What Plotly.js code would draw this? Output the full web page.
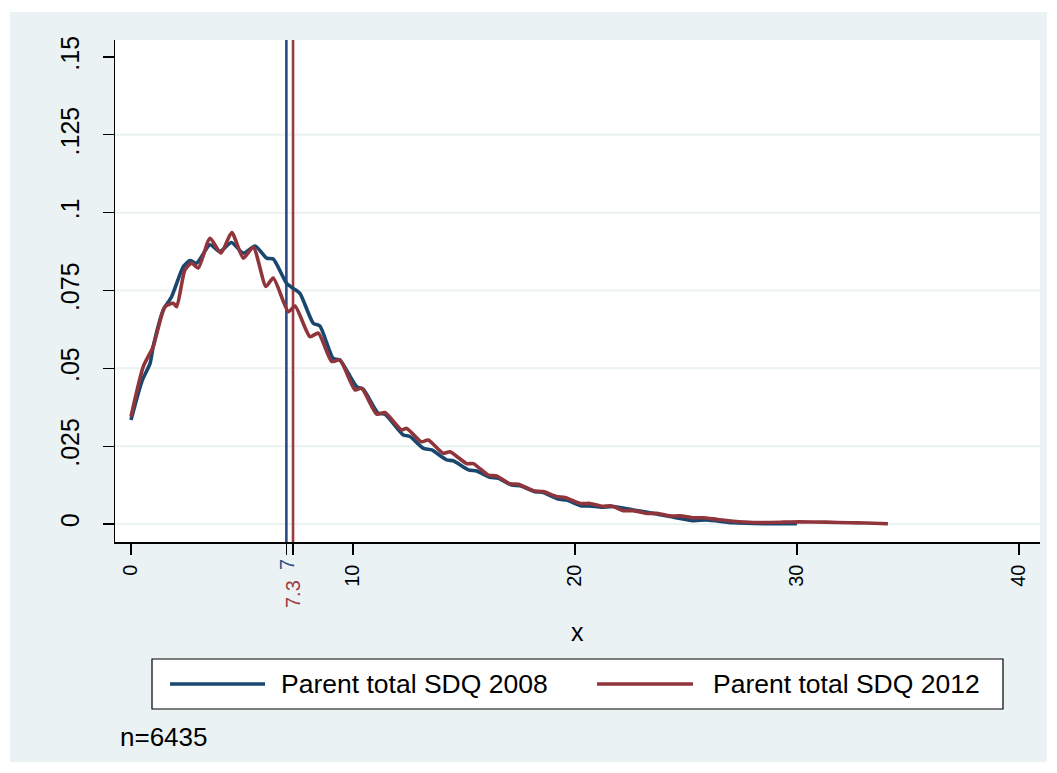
<!DOCTYPE html>
<html>
<head>
<meta charset="utf-8">
<script src="https://cdn.plot.ly/plotly-3.0.1.min.js"></script>
<style>html,body{margin:0;padding:0;background:#fff;}#chart{width:1057px;height:773px;}</style>
</head>
<body>
<div id="chart"></div>
<script>
// ---- data ----
const seriesNames = ['Parent total SDQ 2008', 'Parent total SDQ 2012'];

const x2008 = [0, 0.5, 0.86, 1.0, 1.46, 1.83, 2.36, 2.66, 2.96, 3.56, 4.0, 4.53, 5.06, 5.59, 6.11, 6.41, 7.01, 7.31, 7.61, 8.21, 8.51, 9.11, 9.41, 10.17, 10.46, 11.14, 11.44, 12.27, 12.57, 13.17, 13.55, 14.22, 14.52, 15.2, 15.57, 16.17, 16.55, 17.15, 17.52, 18.2, 18.57, 19.25, 19.62, 20.3, 20.68, 21.2, 21.73, 22.63, 23.38, 24.28, 25.33, 25.93, 27.13, 28.6, 30];
const y2008 = [0.0334, 0.046, 0.0516, 0.057, 0.0688, 0.073, 0.0827, 0.0846, 0.0838, 0.0897, 0.0875, 0.0904, 0.087, 0.0893, 0.0854, 0.0851, 0.0773, 0.0757, 0.0741, 0.0645, 0.0636, 0.0532, 0.0527, 0.0441, 0.0433, 0.0356, 0.0353, 0.0286, 0.0281, 0.0243, 0.0238, 0.0206, 0.0203, 0.0174, 0.017, 0.015, 0.0147, 0.0125, 0.0123, 0.0104, 0.0101, 0.008, 0.0077, 0.0058, 0.0058, 0.0054, 0.0056, 0.0045, 0.0036, 0.0024, 0.0011, 0.0013, 0.0004, 0.0001, 0.0001];

const x2012 = [0, 0.55, 1.0, 1.53, 1.91, 2.06, 2.43, 2.73, 3.03, 3.56, 4.05, 4.54, 5.06, 5.51, 6.08, 6.41, 7.09, 7.39, 8.06, 8.44, 9.04, 9.41, 10.09, 10.39, 11.07, 11.44, 12.19, 12.42, 13.09, 13.39, 14.07, 14.37, 15.12, 15.42, 16.1, 16.47, 17.07, 17.45, 18.12, 18.57, 19.17, 19.55, 20.23, 20.68, 21.2, 21.65, 22.18, 22.63, 23.23, 23.75, 24.28, 24.73, 25.33, 25.78, 26.38, 27.13, 28.04, 29.4, 30.1, 31.3, 32.4, 33.1, 34.1];
const y2012 = [0.0345, 0.0505, 0.057, 0.0698, 0.0709, 0.0698, 0.0816, 0.0838, 0.0822, 0.0918, 0.087, 0.0936, 0.0854, 0.0889, 0.0763, 0.079, 0.0682, 0.070, 0.0602, 0.0613, 0.0522, 0.0527, 0.0431, 0.0436, 0.0353, 0.0358, 0.0302, 0.0307, 0.0264, 0.027, 0.0227, 0.0232, 0.0194, 0.0194, 0.0157, 0.0154, 0.0129, 0.0128, 0.0107, 0.0104, 0.0088, 0.0085, 0.0066, 0.0066, 0.0057, 0.0058, 0.0043, 0.0043, 0.0034, 0.0034, 0.0026, 0.0026, 0.002, 0.002, 0.0015, 0.0009, 0.0005, 0.0006, 0.0007, 0.0006, 0.0004, 0.0003, 0.0001];

const refLines = [7, 7.3];
const refLabels = ['7', '7.3'];

const xTickVals = [0, 10, 20, 30, 40];
const xTickText = ['0', '10', '20', '30', '40'];
const yTickVals = [0, 0.025, 0.05, 0.075, 0.1, 0.125, 0.15];
const yTickText = ['0', '.025', '.05', '.075', '.1', '.125', '.15'];
const gridVals = [0, 0.025, 0.05, 0.075, 0.1, 0.125];

const xTitle = 'x';
const noteText = 'n=6435';

// ---- styles ----
const FONT = '"Liberation Sans", Arial, sans-serif';
const C_BLUE = '#1a476f';
const C_RED = '#90353b';
const C_BLUE_REF = '#2a4a88';
const C_RED_REF = '#9b3a41';
const BG = '#eaf2f3';

const traces = [
  {x: x2008, y: y2008, type: 'scatter', mode: 'lines', name: seriesNames[0],
   line: {color: C_BLUE, width: 3.6, shape: 'spline', smoothing: 0.6}, hoverinfo: 'skip'},
  {x: x2012, y: y2012, type: 'scatter', mode: 'lines', name: seriesNames[1],
   line: {color: C_RED, width: 3.6, shape: 'spline', smoothing: 0.6}, hoverinfo: 'skip'}
];

const shapes = [];
// outer graph region background
shapes.push({type: 'rect', xref: 'paper', yref: 'paper', x0: -0.1135, x1: 1.0076, y0: -0.438, y1: 1.0558,
  fillcolor: BG, line: {width: 0}, layer: 'below'});
// plot region
shapes.push({type: 'rect', xref: 'paper', yref: 'paper', x0: 0, x1: 1, y0: 0, y1: 1,
  fillcolor: '#ffffff', line: {width: 0}, layer: 'below'});
// gridlines
gridVals.forEach(v => shapes.push({type: 'line', xref: 'paper', yref: 'y', x0: 0, x1: 1, y0: v, y1: v,
  line: {color: BG, width: 2}, layer: 'below'}));
// reference lines
const refColors = [C_BLUE_REF, C_RED_REF];
refLines.forEach((v, i) => shapes.push({type: 'line', xref: 'x', yref: 'paper', x0: v, x1: v, y0: 0, y1: 1,
  line: {color: refColors[i], width: 2.6}, layer: 'below'}));

// legend box (custom)
shapes.push({type: 'rect', xref: 'paper', yref: 'paper', x0: 0.04, x1: 0.96, y0: -0.3327, y1: -0.2331,
  fillcolor: '#ffffff', line: {color: '#000000', width: 1.2}});
shapes.push({type: 'line', xref: 'paper', yref: 'paper', x0: 0.0595, x1: 0.1622, y0: -0.2829, y1: -0.2829,
  line: {color: C_BLUE, width: 3.6}});
shapes.push({type: 'line', xref: 'paper', yref: 'paper', x0: 0.5211, x1: 0.6249, y0: -0.2829, y1: -0.2829,
  line: {color: C_RED, width: 3.6}});

const annotations = [];
const refLabelY = [-0.03, -0.0717];
refLines.forEach((v, i) => annotations.push({xref: 'x', yref: 'paper', x: v, y: refLabelY[i],
  text: refLabels[i], showarrow: false, textangle: -90, xanchor: 'center', yanchor: 'top',
  font: {family: FONT, size: 20, color: refColors[i]}}));
annotations.push({xref: 'paper', yref: 'paper', x: 0.5, y: -0.179, text: xTitle, showarrow: false,
  xanchor: 'center', yanchor: 'middle', font: {family: FONT, size: 25, color: '#000'}});
annotations.push({xref: 'paper', yref: 'paper', x: 0.1773, y: -0.2829, text: seriesNames[0], showarrow: false,
  xanchor: 'left', yanchor: 'middle', font: {family: FONT, size: 26.5, color: '#000'}});
annotations.push({xref: 'paper', yref: 'paper', x: 0.6443, y: -0.2829, text: seriesNames[1], showarrow: false,
  xanchor: 'left', yanchor: 'middle', font: {family: FONT, size: 26.5, color: '#000'}});
annotations.push({xref: 'paper', yref: 'paper', x: 0.003, y: -0.3884, text: noteText, showarrow: false,
  xanchor: 'left', yanchor: 'middle', font: {family: FONT, size: 26, color: '#000'}});

const layout = {
  width: 1057, height: 773,
  margin: {l: 115, r: 17, t: 40, b: 231, pad: 0},
  paper_bgcolor: '#ffffff', plot_bgcolor: 'rgba(0,0,0,0)',
  showlegend: false,
  font: {family: FONT, color: '#000'},
  xaxis: {
    range: [-0.72, 40.95], showgrid: false, zeroline: false,
    showline: true, linecolor: '#000', linewidth: 1.5,
    ticks: 'outside', ticklen: 11, tickwidth: 1.2, tickcolor: '#000',
    tickmode: 'array',
    tickvals: xTickVals.concat(refLines),
    ticktext: xTickText.concat(refLines.map(() => '')),
    tickangle: -90, tickfont: {family: FONT, size: 20, color: '#000'},
    ticklabelstandoff: 2
  },
  yaxis: {
    range: [-0.00578, 0.15546], showgrid: false, zeroline: false,
    showline: true, linecolor: '#000', linewidth: 1.5,
    ticks: 'outside', ticklen: 11, tickwidth: 1.2, tickcolor: '#000',
    tickmode: 'array', tickvals: yTickVals, ticktext: yTickText,
    tickangle: -90, tickfont: {family: FONT, size: 25, color: '#000'},
    ticklabelstandoff: 14
  },
  shapes: shapes,
  annotations: annotations
};

Plotly.newPlot('chart', traces, layout, {displayModeBar: false, staticPlot: true});
</script>
</body>
</html>
